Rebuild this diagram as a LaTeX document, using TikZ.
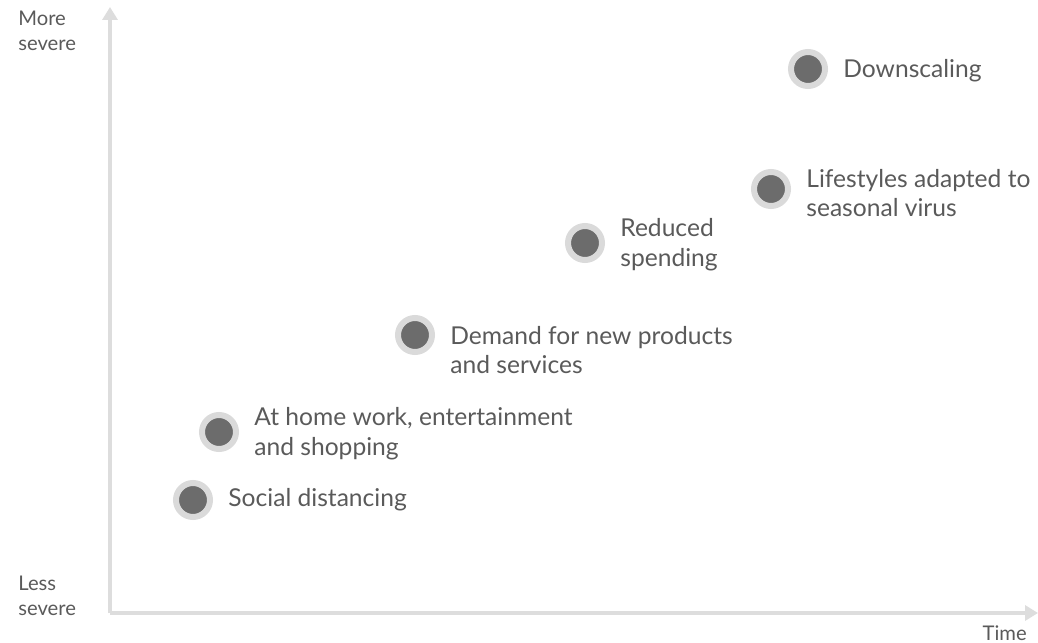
\documentclass[tikz,border=0pt]{standalone}
\usepackage{fontspec}
\setmainfont{Lato}
\usepackage{xcolor}
\usepackage{tikz}
\definecolor{axisgray}{RGB}{221, 221, 221}
\definecolor{ringgray}{RGB}{218, 218, 218}
\definecolor{dotgray}{RGB}{108, 108, 108}
\definecolor{textgray}{RGB}{90, 90, 90}
\usetikzlibrary{arrows.meta, positioning}

\begin{document}
\begin{tikzpicture}[
    axis/.style={draw=axisgray, line width=0.08cm, -{Triangle[width=0.3cm, length=0.26cm]}},
    dot/.style={circle, draw=ringgray, fill=dotgray, line width=0.12cm, minimum size=0.68cm, inner sep=0pt},
    step label/.style={right=0.3cm of #1, inner sep=0pt, text=textgray, align=left, font=\fontsize{14}{17}\selectfont},
    axis label/.style={inner sep=0pt, text=textgray, align=left, font=\fontsize{11.5}{14.5}\selectfont}
]
    \useasboundingbox (0, 0) rectangle (20.76, 12.84);

    % Axes
    \coordinate (origin) at (2.2, 0.58);
    \coordinate (ytip) at (2.2, 12.7);
    \coordinate (xtip) at (20.76, 0.58);
    \draw[axis] (origin) -- (ytip);
    \draw[axis] (origin) -- (xtip);

    \node[axis label, anchor=west] (more) at (0.36, 12.22) {More\\severe};
    \node[axis label, anchor=west] (less) at (0.36, 0.92) {Less\\severe};
    \node[axis label, anchor=east] (time) at (20.54, 0.18) {Time};

    % Responses
    \node[dot] (social) at (3.86, 2.84) {};
    \node[dot] (home) at (4.38, 4.20) {};
    \node[dot] (demand) at (8.30, 6.14) {};
    \node[dot] (reduced) at (11.70, 7.98) {};
    \node[dot] (lifestyles) at (15.42, 9.06) {};
    \node[dot] (downscaling) at (16.16, 11.46) {};

    \node[step label=social] (socialtext) {Social distancing};
    \node[step label=home, yshift=-0.04cm] (hometext) {At home work, entertainment\\and shopping};
    \node[step label=demand, yshift=-0.3cm] (demandtext) {Demand for new products\\and services};
    \node[step label=reduced, yshift=-0.04cm] (reducedtext) {Reduced\\spending};
    \node[step label=lifestyles, yshift=-0.08cm] (lifestylestext) {Lifestyles adapted to\\seasonal virus};
    \node[step label=downscaling, yshift=-0.04cm] (downscalingtext) {Downscaling};
\end{tikzpicture}
\end{document}
